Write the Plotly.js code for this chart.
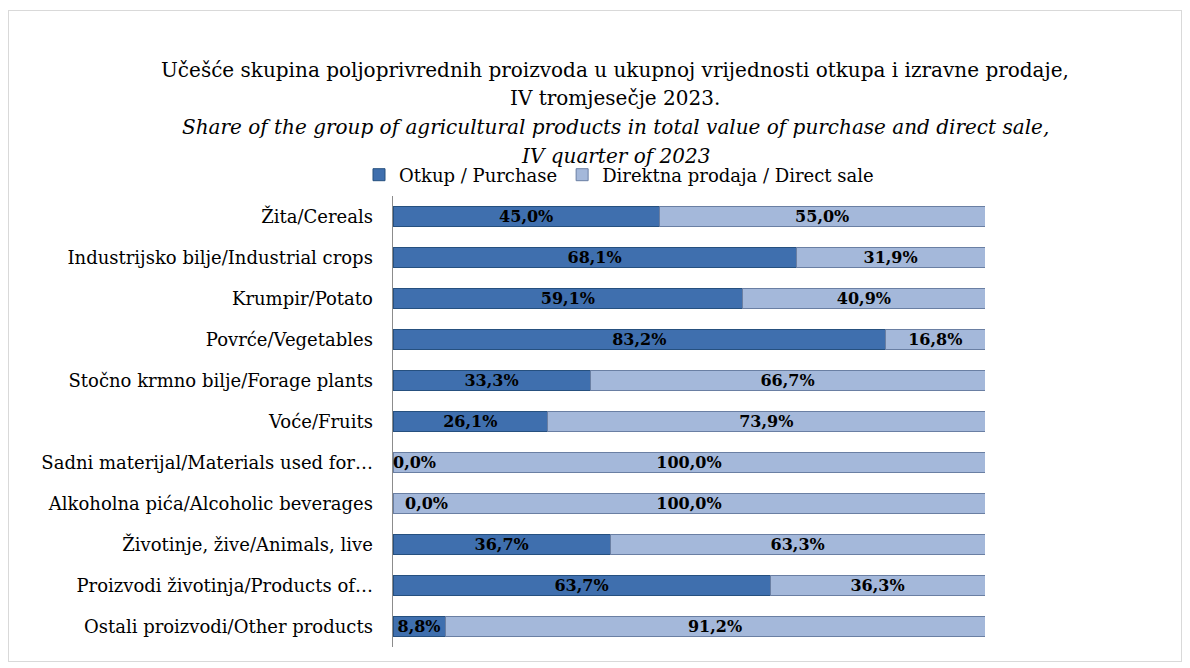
<!DOCTYPE html>
<html><head><meta charset="utf-8">
<script src="https://cdn.plot.ly/plotly-3.0.1.min.js"></script>
<style>
html,body{margin:0;padding:0;background:#fff;}
#wrap{position:relative;width:1190px;height:668px;}
#chart{width:1190px;height:668px;}
#frame{position:absolute;left:8px;top:10px;width:1172px;height:650px;border:1px solid #d9d9d9;pointer-events:none;}
</style></head>
<body><div id="wrap"><div id="chart"></div><div id="frame"></div></div>
<script>
const categories = [
  "Žita/Cereals",
  "Industrijsko bilje/Industrial crops",
  "Krumpir/Potato",
  "Povrće/Vegetables",
  "Stočno krmno bilje/Forage plants",
  "Voće/Fruits",
  "Sadni materijal/Materials used for…",
  "Alkoholna pića/Alcoholic beverages",
  "Životinje, žive/Animals, live",
  "Proizvodi životinja/Products of…",
  "Ostali proizvodi/Other products"
];
const purchase = [45.0, 68.1, 59.1, 83.2, 33.3, 26.1, 0.0, 0.0, 36.7, 63.7, 8.8];
const directSale = [55.0, 31.9, 40.9, 16.8, 66.7, 73.9, 100.0, 100.0, 63.3, 36.3, 91.2];
const seriesNames = ["Otkup / Purchase", "Direktna prodaja / Direct sale"];
const titleLines = [
  "Učešće skupina poljoprivrednih proizvoda u ukupnoj vrijednosti otkupa i izravne prodaje,",
  "IV tromjesečje 2023.",
  "<i>Share of the group of agricultural products in total value of purchase and direct sale,</i>",
  "<i>IV quarter of 2023</i>"
];

const SERIF = "DejaVu Serif, Liberation Serif, serif";
const fmt = v => v.toFixed(1).replace('.', ',') + '%';
const labelFont = {family: SERIF, size: 16, color: "#000"};

const traces = [
  {type:'bar', orientation:'h', name:seriesNames[0], y:categories, x:purchase,
   text:purchase.map(v => v > 0 ? '<b>'+fmt(v)+'</b>' : ''), textposition:'inside', insidetextanchor:'middle',
   textfont:labelFont, constraintext:'none',
   marker:{color:'#3f6fae', line:{color:'#26507f', width:1}}, width:0.5, hoverinfo:'skip'},
  {type:'bar', orientation:'h', name:seriesNames[1], y:categories, x:directSale,
   text:directSale.map(v => '<b>'+fmt(v)+'</b>'), textposition:'inside', insidetextanchor:'middle',
   textfont:labelFont, constraintext:'none',
   marker:{color:'#a4b8da', line:{color:'#6a7fa3', width:1}}, width:0.5, hoverinfo:'skip'}
];

// plot area: top 196, bottom 647 (height 451)
const T = 196, H = 451;
const py = p => 1 - (p - T) / H;

const annotations = [];
const titleY = [70, 98.5, 127, 155.5];
titleLines.forEach((t, i) => {
  annotations.push({xref:'paper', yref:'paper', x:(615-393)/592, y:py(titleY[i]), text:t,
    showarrow:false, xanchor:'center', yanchor:'middle',
    font:{family:SERIF, size:20, color:'#000'}});
});
categories.forEach((c, i) => {
  if (purchase[i] === 0) {
    annotations.push({x:0, y:c, xref:'x', yref:'y', text:'<b>'+fmt(purchase[i])+'</b>',
      showarrow:false, xanchor:'left', xshift: i === 6 ? -2 : 10, font:labelFont});
  }
});

const layout = {
  width:1190, height:668,
  margin:{l:393, r:205, t:196, b:21},
  paper_bgcolor:'#fff', plot_bgcolor:'#fff',
  barmode:'stack',
  showlegend:true,
  legend:{orientation:'h', x:(359-393)/592, xanchor:'left', y:py(175), yanchor:'middle',
    yref:'paper', font:{family:SERIF, size:18, color:'#000'},
    itemwidth:30, traceorder:'normal', bgcolor:'rgba(0,0,0,0)'},
  xaxis:{range:[0,100], showgrid:false, zeroline:false, showticklabels:false, ticks:'', fixedrange:true},
  yaxis:{autorange:'reversed', showline:true, linecolor:'#8c8c8c', linewidth:1.5, ticks:'',
    ticklabelstandoff:15, tickfont:{family:SERIF, size:18, color:'#000'},
    showgrid:false},
  annotations:annotations,
  font:{family:SERIF}
};

Plotly.newPlot('chart', traces, layout, {displayModeBar:false, staticPlot:true});
</script></body></html>
